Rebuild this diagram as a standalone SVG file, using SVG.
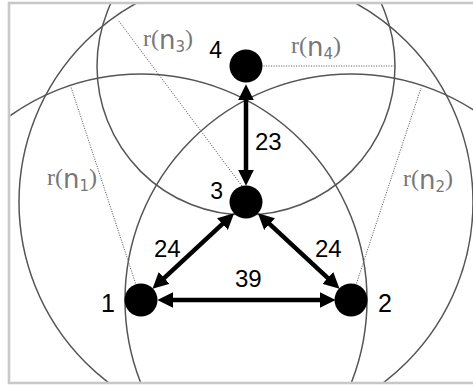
<svg xmlns="http://www.w3.org/2000/svg" width="473" height="385" viewBox="0 0 473 385">
<style>
.range{fill:none;stroke:#555;stroke-width:1.5}
.radius{fill:none;stroke:#666;stroke-width:1;stroke-dasharray:1.2 1.3}
.edge{fill:none;stroke:#000;stroke-width:4.5;marker-start:url(#ah);marker-end:url(#ah)}
.node{fill:#000}
.nl{font-family:"Liberation Sans",Arial,sans-serif;font-size:23px;fill:#000}
.nb{font-size:25px}
.el{font-family:"Liberation Sans",Arial,sans-serif;font-size:24px;fill:#000}
.rl{font-family:"Liberation Serif","Times New Roman",serif;font-size:24px;fill:#777}
.rn{font-family:"DejaVu Sans",sans-serif;font-size:26px}
.rs{font-family:"DejaVu Sans",sans-serif;font-size:15px}
</style>
<defs>
<clipPath id="frame"><rect x="10.5" y="4.3" width="470" height="377.4"/></clipPath>
<marker id="ah" markerUnits="userSpaceOnUse" markerWidth="16" markerHeight="16" viewBox="0 0 15 15" refX="5" refY="7.5" orient="auto-start-reverse">
<path d="M0,0 L15,7.5 L0,15 z" fill="#000"/>
</marker>
</defs>
<rect x="9" y="3" width="480" height="380" fill="#fff" stroke="#c8c8c8" stroke-width="2.6"/>
<g id="ranges" clip-path="url(#frame)">
<circle class="range" cx="141" cy="300" r="226"/>
<circle class="range" cx="351" cy="300" r="226"/>
<circle class="range" cx="246" cy="202" r="227"/>
<circle class="range" cx="246" cy="66" r="149"/>
<line class="radius" x1="141" y1="300" x2="71" y2="87"/>
<line class="radius" x1="351" y1="300" x2="421" y2="88"/>
<line class="radius" x1="242" y1="186" x2="118" y2="20"/>
<line class="radius" x1="246" y1="66" x2="395" y2="66"/>
</g>
<g id="radius-labels">
<text class="rl" x="143" y="46">r(<tspan class="rn" dy="3">n</tspan><tspan class="rs" dy="3">3</tspan><tspan dy="-6">)</tspan></text>
<text class="rl" x="291" y="53">r(<tspan class="rn" dy="3">n</tspan><tspan class="rs" dy="3">4</tspan><tspan dy="-6">)</tspan></text>
<text class="rl" x="47" y="185">r(<tspan class="rn" dy="3">n</tspan><tspan class="rs" dy="3">1</tspan><tspan dy="-6">)</tspan></text>
<text class="rl" x="403" y="186">r(<tspan class="rn" dy="3">n</tspan><tspan class="rs" dy="3">2</tspan><tspan dy="-6">)</tspan></text>
</g>
<g id="connectors">
<line class="edge" x1="246" y1="95" x2="246" y2="175"/>
<line class="edge" x1="168" y1="300" x2="325" y2="300"/>
<line class="edge" x1="160.3" y1="281.6" x2="226.3" y2="220.4"/>
<line class="edge" x1="331.7" y1="281.6" x2="265.7" y2="220.4"/>
<text class="el" x="255" y="150">23</text>
<text class="el" x="154" y="257">24</text>
<text class="el" x="315" y="257">24</text>
<text class="el" x="235" y="287">39</text>
</g>
<g id="n4"><circle class="node" cx="246" cy="66" r="16.5"/><text class="nl" x="222" y="58" text-anchor="end">4</text></g>
<g id="n3"><circle class="node" cx="246" cy="202" r="16.5"/><text class="nl" x="223" y="199" text-anchor="end">3</text></g>
<g id="n1"><circle class="node" cx="141" cy="300" r="16.5"/><text class="nl nb" x="115" y="312" text-anchor="end">1</text></g>
<g id="n2"><circle class="node" cx="351" cy="300" r="16.5"/><text class="nl nb" x="378" y="312">2</text></g>
</svg>
